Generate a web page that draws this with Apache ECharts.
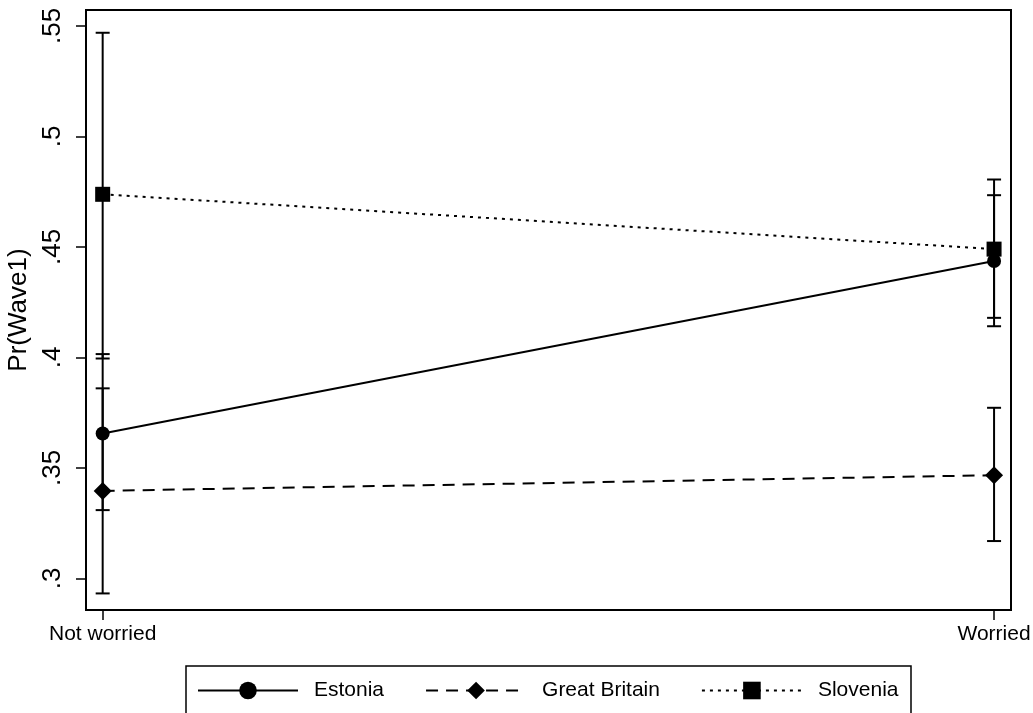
<!DOCTYPE html>
<html>
<head>
<meta charset="utf-8">
<script src="https://cdn.jsdelivr.net/npm/echarts@6/dist/echarts.min.js"></script>
<style>
html,body{margin:0;padding:0;background:#fff;}
#chart{width:1033px;height:713px;}
</style>
</head>
<body>
<div id="chart"></div>
<script>
// ---- data ----
var categories = ['Not worried', 'Worried'];
var seriesNames = ['Estonia', 'Great Britain', 'Slovenia'];
var estonia = [0.3656, 0.4436];
var estoniaLo = [0.3309, 0.4141];
var estoniaHi = [0.4015, 0.4734];
var britain = [0.3396, 0.3467];
var britainLo = [0.2932, 0.3169];
var britainHi = [0.3860, 0.3772];
var slovenia = [0.4738, 0.4490];
var sloveniaLo = [0.3995, 0.4179];
var sloveniaHi = [0.5469, 0.4805];
var yTickValues = [0.30, 0.35, 0.40, 0.45, 0.50, 0.55];
var yTickLabels = ['.3', '.35', '.4', '.45', '.5', '.55'];
var yMin = 0.2857, yMax = 0.5572;
var xMin = -0.0187, xMax = 1.019;

var FONT = '"Liberation Sans", Arial, Helvetica, sans-serif';

function pts(vals) { return vals.map(function (v, i) { return [i, v]; }); }
function bars(lo, hi) { return lo.map(function (v, i) { return [i, v, hi[i]]; }); }

function renderErr(params, api) {
  var x = api.value(0);
  var lo = api.coord([x, api.value(1)]);
  var hi = api.coord([x, api.value(2)]);
  var hw = 7;
  var st = { stroke: '#000', lineWidth: 2 };
  return {
    type: 'group',
    children: [
      { type: 'line', shape: { x1: lo[0], y1: lo[1], x2: hi[0], y2: hi[1] }, style: st },
      { type: 'line', shape: { x1: lo[0] - hw, y1: lo[1], x2: lo[0] + hw, y2: lo[1] }, style: st },
      { type: 'line', shape: { x1: hi[0] - hw, y1: hi[1], x2: hi[0] + hw, y2: hi[1] }, style: st }
    ]
  };
}

function errSeries(lo, hi) {
  return {
    type: 'custom',
    renderItem: renderErr,
    data: bars(lo, hi),
    encode: { x: 0, y: [1, 2] },
    silent: true,
    z: 1
  };
}

var chart = echarts.init(document.getElementById('chart'), null, { renderer: 'canvas' });
chart.setOption({
  animation: false,
  backgroundColor: '#fff',
  textStyle: { fontFamily: FONT, color: '#000' },
  grid: {
    left: 86, right: 22, top: 10, bottom: 103,
    outerBoundsMode: 'none', containLabel: false,
    show: true, borderColor: '#000', borderWidth: 2, backgroundColor: '#fff'
  },
  legend: {
    data: seriesNames,
    left: 197, top: 680,
    padding: 0,
    itemWidth: 100, itemHeight: 22, itemGap: 41,
    textStyle: { fontFamily: FONT, fontSize: 21, color: '#000', padding: [0, 0, 0, 11] }
  },
  graphic: [{
    type: 'rect',
    shape: { x: 186, y: 666, width: 725, height: 80 },
    style: { fill: null, stroke: '#000', lineWidth: 1.5 },
    silent: true, z: -1
  }],
  xAxis: {
    type: 'value', min: xMin, max: xMax,
    splitLine: { show: false },
    axisLine: { show: true, onZero: false, lineStyle: { color: '#000', width: 2 } },
    axisTick: { show: true, length: 10, lineStyle: { color: '#000', width: 1.5 }, customValues: [0, 1] },
    axisLabel: {
      customValues: [0, 1],
      formatter: function (v) { return categories[Math.round(v)]; },
      fontFamily: FONT, fontSize: 21, color: '#000', margin: 14
    }
  },
  yAxis: {
    type: 'value', min: yMin, max: yMax,
    name: 'Pr(Wave1)', nameLocation: 'middle', nameRotate: 90, nameGap: 42,
    nameTextStyle: { fontFamily: FONT, fontSize: 26, color: '#000' },
    splitLine: { show: false },
    axisLine: { show: true, onZero: false, lineStyle: { color: '#000', width: 2 } },
    axisTick: { show: true, length: 10, lineStyle: { color: '#000', width: 1.5 }, customValues: yTickValues },
    axisLabel: {
      customValues: yTickValues,
      rotate: 90,
      formatter: function (v) {
        for (var i = 0; i < yTickValues.length; i++) {
          if (Math.abs(yTickValues[i] - v) < 1e-6) return yTickLabels[i];
        }
        return '';
      },
      fontFamily: FONT, fontSize: 26, color: '#000', margin: 20
    }
  },
  series: [
    errSeries(estoniaLo, estoniaHi),
    errSeries(britainLo, britainHi),
    errSeries(sloveniaLo, sloveniaHi),
    {
      name: seriesNames[0], type: 'line', data: pts(estonia),
      symbol: 'circle', symbolSize: 14, z: 3,
      lineStyle: { color: '#000', width: 2, type: 'solid' },
      itemStyle: { color: '#000' }
    },
    {
      name: seriesNames[1], type: 'line', data: pts(britain),
      symbol: 'diamond', symbolSize: [18, 18], z: 3,
      lineStyle: { color: '#000', width: 2, type: [12, 8] },
      itemStyle: { color: '#000' }
    },
    {
      name: seriesNames[2], type: 'line', data: pts(slovenia),
      symbol: 'rect', symbolSize: 15, z: 3,
      lineStyle: { color: '#000', width: 2, type: [3, 5] },
      itemStyle: { color: '#000' }
    }
  ]
});
</script>
</body>
</html>
